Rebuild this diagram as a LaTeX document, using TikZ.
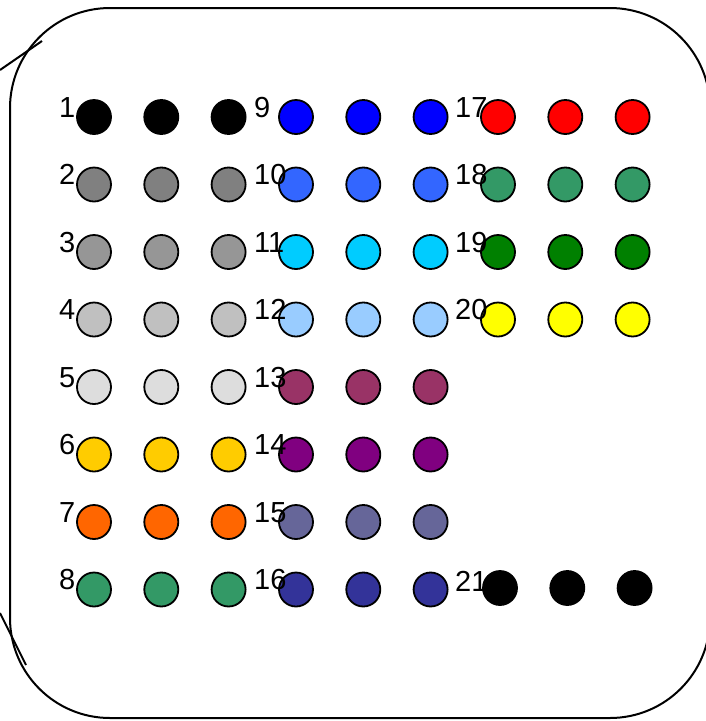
\documentclass[tikz,border=0pt]{standalone}
\usepackage{fontspec}
\setmainfont{Liberation Sans}
\usepackage{xcolor}
\usepackage{tikz}
\usetikzlibrary{positioning, calc}
\definecolor{cBlack}{HTML}{000000}
\definecolor{cGrayA}{HTML}{808080}
\definecolor{cGrayB}{HTML}{969696}
\definecolor{cGrayC}{HTML}{C0C0C0}
\definecolor{cGrayD}{HTML}{DDDDDD}
\definecolor{cGold}{HTML}{FFCC00}
\definecolor{cOrange}{HTML}{FF6600}
\definecolor{cSea}{HTML}{339966}
\definecolor{cBlue}{HTML}{0000FF}
\definecolor{cRoyal}{HTML}{3366FF}
\definecolor{cSky}{HTML}{00CCFF}
\definecolor{cPale}{HTML}{99CCFF}
\definecolor{cPlum}{HTML}{993366}
\definecolor{cViolet}{HTML}{800080}
\definecolor{cSlate}{HTML}{666699}
\definecolor{cIndigo}{HTML}{333399}
\definecolor{cRed}{HTML}{FF0000}
\definecolor{cGreen}{HTML}{008000}
\definecolor{cYellow}{HTML}{FFFF00}
\tikzset{
    dot/.style={
        circle,
        draw=black,
        line width=1.8pt,
        inner sep=0pt,
        minimum size=34pt
    },
    numlabel/.style={
        anchor=base west,
        inner sep=0pt,
        font=\fontsize{29}{31}\selectfont
    },
    frame/.style={
        line width=2pt
    }
}
\begin{document}
\begin{tikzpicture}[x=1pt, y=-1pt]

\useasboundingbox (0,0) rectangle (706,721);
\clip (0,0) rectangle (706,721);

%---------------- Frame ----------------

\draw[frame, rounded corners=100pt] (10,8) rectangle (710,718);

\coordinate (ta) at (0,70);
\coordinate (tb) at (42,41);
\coordinate (ba) at (0,613);
\coordinate (bb) at (26,665);
\draw[frame] (ta)--(tb);
\draw[frame] (ba)--(bb);

%---------------- Column 1 ----------------

\foreach \n/\col [count=\r from 0] in {1/cBlack,2/cGrayA,3/cGrayB,4/cGrayC,5/cGrayD,6/cGold,7/cOrange,8/cSea}{
    \pgfmathsetmacro\yy{117+67.5*\r}
    \foreach \k in {0,1,2}
        \node[dot, fill=\col] (c\n-\k) at ({94+67.3*\k},\yy) {};
    \node[numlabel] (l\n) at (59,\yy) {\n};
}

%---------------- Column 2 ----------------

\foreach \n/\col [count=\r from 0] in {9/cBlue,10/cRoyal,11/cSky,12/cPale,13/cPlum,14/cViolet,15/cSlate,16/cIndigo}{
    \pgfmathsetmacro\yy{117+67.5*\r}
    \foreach \k in {0,1,2}
        \node[dot, fill=\col] (c\n-\k) at ({296+67.3*\k},\yy) {};
    \node[numlabel] (l\n) at (254,\yy) {\n};
}

%---------------- Column 3 ----------------

\foreach \n/\col [count=\r from 0] in {17/cRed,18/cSea,19/cGreen,20/cYellow}{
    \pgfmathsetmacro\yy{117+67.5*\r}
    \foreach \k in {0,1,2}
        \node[dot, fill=\col] (c\n-\k) at ({498+67.3*\k},\yy) {};
    \node[numlabel] (l\n) at (455,\yy) {\n};
}

\foreach \k in {0,1,2}
    \node[dot, fill=cBlack] (c21-\k) at ({500+67.3*\k},588) {};
\node[numlabel] (l21) at (455,591) {21};

\end{tikzpicture}
\end{document}
